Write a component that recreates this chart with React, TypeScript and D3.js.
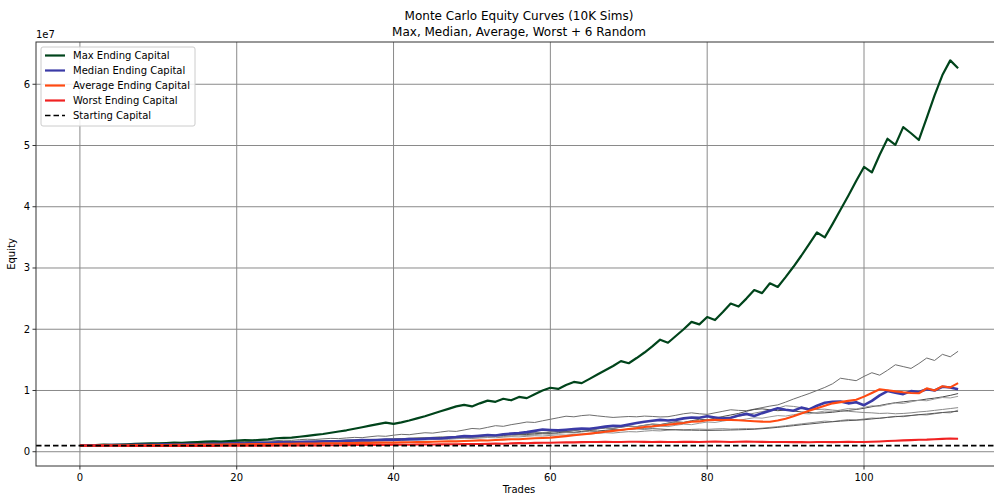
import React from "react";
import * as d3 from "d3";

// Values in millions of dollars, trade index 0..112
const maxCurve = [1.00,1.04,1.08,1.15,1.12,1.18,1.22,1.27,1.32,1.38,1.35,1.42,1.48,1.44,1.52,1.58,1.64,1.70,1.66,1.74,1.82,1.88,1.84,1.94,2.02,2.20,2.25,2.30,2.45,2.60,2.75,2.90,3.10,3.30,3.50,3.75,4.00,4.25,4.50,4.75,4.55,4.80,5.10,5.45,5.80,6.20,6.60,7.00,7.40,7.65,7.40,7.90,8.35,8.15,8.65,8.40,8.95,8.75,9.40,10.00,10.45,10.25,10.90,11.40,11.20,11.90,12.60,13.30,14.00,14.80,14.45,15.30,16.20,17.20,18.30,17.80,18.90,20.00,21.20,20.80,22.00,21.50,22.80,24.20,23.70,25.00,26.40,25.90,27.50,26.90,28.50,30.20,32.00,33.90,35.80,35.00,37.20,39.50,41.80,44.20,46.50,45.60,48.50,51.10,50.10,53.00,52.00,50.90,54.50,58.20,61.50,63.90,62.60];
const medianCurve = [1.00,1.03,1.06,1.04,1.08,1.10,1.08,1.12,1.15,1.13,1.17,1.20,1.18,1.22,1.25,1.23,1.27,1.30,1.28,1.33,1.37,1.35,1.40,1.44,1.42,1.48,1.52,1.50,1.60,1.64,1.62,1.68,1.72,1.70,1.78,1.84,1.90,1.86,1.92,1.97,1.93,2.00,2.06,2.03,2.12,2.20,2.16,2.30,2.40,2.55,2.50,2.62,2.72,2.66,2.85,2.95,3.05,3.20,3.40,3.62,3.55,3.48,3.60,3.70,3.78,3.74,3.92,4.10,4.25,4.20,4.45,4.70,4.90,5.05,5.20,5.10,5.20,5.45,5.60,5.55,5.80,5.60,5.40,5.55,5.90,6.18,5.85,6.30,6.70,7.10,6.85,6.70,7.20,6.90,7.50,8.00,8.15,8.20,7.90,8.07,7.60,8.30,9.20,9.90,9.65,9.40,9.90,9.74,10.20,10.00,10.60,10.50,10.20];
const averageCurve = [1.00,1.02,1.01,1.04,1.05,1.04,1.07,1.08,1.07,1.10,1.11,1.10,1.13,1.14,1.13,1.16,1.17,1.16,1.19,1.20,1.22,1.21,1.24,1.25,1.27,1.26,1.29,1.31,1.33,1.32,1.35,1.37,1.39,1.38,1.41,1.43,1.45,1.44,1.48,1.50,1.49,1.53,1.56,1.58,1.57,1.62,1.66,1.70,1.69,1.75,1.80,1.85,1.84,1.92,1.98,2.04,2.03,2.12,2.20,2.25,2.30,2.42,2.55,2.70,2.82,2.95,3.10,3.25,3.40,3.55,3.70,3.85,4.05,4.15,4.28,4.40,4.55,4.70,4.90,4.95,5.15,5.20,5.18,5.20,5.15,5.05,4.98,4.92,4.90,5.10,5.40,5.80,6.25,6.70,7.10,7.50,7.90,8.10,8.30,8.50,9.00,9.60,10.20,10.05,9.85,9.70,9.60,9.55,10.35,10.00,10.70,10.50,11.20];
const worstCurve = [1.00,0.98,1.01,0.99,0.97,0.98,0.96,0.97,0.95,0.96,0.94,0.96,0.95,0.97,0.95,0.96,0.94,0.96,0.98,0.97,0.99,0.98,1.00,1.01,0.99,1.02,1.03,1.02,1.04,1.05,1.04,1.06,1.07,1.06,1.08,1.10,1.09,1.11,1.12,1.11,1.13,1.15,1.14,1.17,1.18,1.17,1.20,1.22,1.21,1.24,1.26,1.25,1.29,1.32,1.31,1.36,1.40,1.39,1.44,1.47,1.46,1.50,1.54,1.52,1.57,1.60,1.58,1.62,1.60,1.58,1.62,1.64,1.61,1.59,1.63,1.60,1.58,1.61,1.63,1.60,1.62,1.65,1.62,1.60,1.64,1.66,1.63,1.61,1.60,1.58,1.60,1.57,1.59,1.56,1.58,1.60,1.57,1.59,1.61,1.58,1.60,1.63,1.68,1.74,1.80,1.86,1.90,1.95,1.98,2.05,2.10,2.15,2.12];
const random1 = [1.00,1.04,1.09,1.06,1.12,1.17,1.14,1.20,1.26,1.23,1.30,1.35,1.32,1.39,1.45,1.42,1.49,1.55,1.52,1.60,1.66,1.63,1.70,1.76,1.73,1.81,1.88,1.85,1.97,2.04,2.00,2.10,2.18,2.14,2.25,2.34,2.30,2.45,2.58,2.52,2.70,2.84,2.78,2.95,3.10,3.04,3.22,3.38,3.32,3.55,3.80,3.72,3.98,4.25,4.15,4.42,4.62,4.85,4.78,5.05,5.30,5.55,5.80,5.70,5.90,6.00,5.85,5.72,5.60,5.68,5.75,5.70,5.82,5.76,5.68,5.72,5.95,6.20,6.35,6.20,6.10,6.35,6.60,6.85,6.75,6.70,6.95,7.20,7.45,7.65,8.10,8.60,9.05,9.50,10.00,10.50,11.10,12.00,11.80,11.60,12.30,12.90,12.50,13.30,14.20,13.90,13.60,14.40,15.30,14.90,15.90,15.50,16.40];
const random2 = [1.00,1.03,1.00,1.05,1.09,1.06,1.11,1.15,1.12,1.17,1.21,1.18,1.24,1.28,1.25,1.31,1.35,1.32,1.38,1.42,1.39,1.45,1.50,1.47,1.53,1.58,1.55,1.61,1.66,1.63,1.70,1.75,1.72,1.79,1.85,1.81,1.89,1.95,1.91,2.00,2.07,2.03,2.12,2.20,2.15,2.25,2.34,2.29,2.40,2.50,2.45,2.57,2.68,2.62,2.76,2.88,2.82,2.97,3.10,3.04,3.20,3.35,3.28,3.45,3.60,3.53,3.72,3.88,3.80,4.00,4.18,4.10,4.32,4.52,4.44,4.68,4.90,4.80,5.06,5.30,5.20,5.48,5.75,6.00,6.25,6.60,6.90,7.00,6.85,6.70,6.80,6.65,6.50,6.40,6.30,6.35,6.45,6.60,6.75,6.90,7.10,7.35,7.55,7.80,8.00,8.15,8.30,8.40,8.60,8.75,8.95,9.20,9.50];
const random3 = [1.00,1.02,1.05,1.03,1.07,1.10,1.08,1.12,1.15,1.13,1.17,1.20,1.18,1.23,1.26,1.24,1.28,1.32,1.30,1.35,1.39,1.37,1.42,1.46,1.44,1.49,1.53,1.51,1.57,1.61,1.59,1.65,1.70,1.67,1.74,1.79,1.76,1.83,1.88,1.85,1.92,1.98,1.95,2.03,2.10,2.06,2.15,2.22,2.18,2.28,2.36,2.32,2.43,2.52,2.47,2.60,2.70,2.65,2.78,2.90,2.85,3.00,3.12,3.06,3.22,3.35,3.28,3.45,3.60,3.52,3.72,3.88,3.80,4.00,4.18,4.10,4.32,4.50,4.42,4.65,4.85,4.78,5.00,5.20,5.12,5.35,5.55,5.48,5.70,5.90,5.82,6.05,6.25,6.18,6.42,6.65,6.58,6.82,7.05,6.98,7.25,7.50,7.42,7.70,7.95,7.88,8.15,8.40,8.32,8.60,8.85,8.78,9.05];
const random4 = [1.00,1.04,1.01,1.06,1.10,1.07,1.12,1.16,1.13,1.19,1.23,1.20,1.26,1.31,1.28,1.34,1.39,1.36,1.42,1.47,1.44,1.50,1.55,1.52,1.58,1.63,1.60,1.67,1.72,1.69,1.76,1.82,1.79,1.86,1.92,1.89,1.97,2.04,2.00,2.09,2.16,2.12,2.22,2.30,2.26,2.36,2.45,2.40,2.51,2.61,2.56,2.68,2.78,2.73,2.86,2.97,2.92,3.06,3.18,3.12,3.27,3.40,3.34,3.50,3.64,3.58,3.75,3.90,3.83,4.02,4.18,4.10,4.30,4.48,4.40,4.62,4.80,4.72,4.96,5.18,5.10,5.36,5.60,5.52,5.80,6.05,6.30,6.55,6.80,7.10,7.50,7.40,7.20,7.05,6.90,6.95,6.80,6.70,6.60,6.50,6.40,6.35,6.25,6.30,6.20,6.25,6.35,6.50,6.60,6.75,6.90,7.05,7.20];
const random5 = [1.00,1.02,0.99,1.03,1.06,1.03,1.07,1.10,1.08,1.12,1.15,1.12,1.17,1.20,1.18,1.22,1.26,1.23,1.28,1.32,1.29,1.34,1.38,1.35,1.41,1.45,1.42,1.48,1.52,1.49,1.55,1.60,1.57,1.63,1.68,1.65,1.71,1.76,1.73,1.80,1.86,1.82,1.90,1.96,1.92,2.00,2.07,2.03,2.12,2.19,2.15,2.24,2.32,2.28,2.38,2.46,2.42,2.52,2.61,2.56,2.67,2.76,2.72,2.83,2.92,2.88,3.00,3.10,3.05,3.18,3.28,3.24,3.36,3.45,3.40,3.52,3.60,3.55,3.65,3.70,3.65,3.72,3.76,3.70,3.74,3.78,3.74,3.85,3.98,4.10,4.25,4.40,4.55,4.70,4.85,5.00,4.92,5.10,5.25,5.18,5.35,5.50,5.45,5.62,5.78,5.72,5.90,6.05,6.00,6.20,6.40,6.35,6.80];
const random6 = [1.00,1.03,1.06,1.03,1.07,1.11,1.08,1.13,1.17,1.14,1.19,1.23,1.20,1.25,1.30,1.27,1.32,1.37,1.34,1.40,1.45,1.42,1.48,1.53,1.50,1.56,1.62,1.58,1.65,1.71,1.67,1.74,1.80,1.76,1.84,1.90,1.86,1.94,2.01,1.97,2.05,2.12,2.08,2.17,2.25,2.20,2.30,2.38,2.33,2.44,2.53,2.48,2.60,2.69,2.64,2.76,2.86,2.80,2.93,3.04,2.98,3.12,3.24,3.18,3.32,3.44,3.38,3.50,3.60,3.54,3.66,3.74,3.68,3.76,3.70,3.62,3.58,3.55,3.52,3.50,3.48,3.50,3.52,3.55,3.58,3.62,3.68,3.76,3.86,3.98,4.12,4.25,4.40,4.52,4.65,4.78,4.90,5.00,5.08,5.15,5.22,5.35,5.48,5.60,5.72,5.82,5.92,6.05,6.15,6.28,6.40,6.52,6.60];

const randomCurves = [random1, random2, random3, random4, random5, random6];
const randomColors = ["#6e6e6e", "#4a4a4a", "#9a9a9a", "#8a8a8a", "#8f8f8f", "#555555"];

const startingCapital = 1.0;
const xTicks = [0, 20, 40, 60, 80, 100];
const yTicks = [0, 1, 2, 3, 4, 5, 6];

const titleLines = ["Monte Carlo Equity Curves (10K Sims)", "Max, Median, Average, Worst + 6 Random"];
const legendLabels = ["Max Ending Capital", "Median Ending Capital", "Average Ending Capital", "Worst Ending Capital", "Starting Capital"];

const W = 994, H = 494;
const L = 36, R = 1002, T = 42, B = 466;
const FONT = "DejaVu Sans, Liberation Sans, sans-serif";

export default function App() {
  const x = d3.scaleLinear().domain([-5.6, 117.6]).range([L, R]);
  const y = d3.scaleLinear().domain([-2.33, 66.9]).range([B, T]); // millions
  const line = d3.line<number>().x((_, i) => x(i)).y((d) => y(d));

  const main = [
    { data: maxCurve, color: "#00441b", w: 2.2 },
    { data: medianCurve, color: "#3a3aa6", w: 2.6 },
    { data: averageCurve, color: "#ff4a12", w: 2.1 },
    { data: worstCurve, color: "#f02222", w: 2.1 },
  ];
  const legendColors = ["#00441b", "#3a3aa6", "#ff4a12", "#f02222", "#000"];

  return (
    <svg width={W} height={H} style={{ position: "absolute", left: 0, top: 0, background: "#fff" }} fontFamily={FONT}>
      <defs>
        <clipPath id="plot"><rect x={L} y={T} width={R - L} height={B - T} /></clipPath>
      </defs>
      {/* grid */}
      {xTicks.map((t) => (
        <line key={"gx" + t} x1={x(t)} x2={x(t)} y1={T} y2={B} stroke="#8a8a8a" strokeWidth={1} />
      ))}
      {yTicks.map((t) => (
        <line key={"gy" + t} x1={L} x2={R} y1={y(t * 10)} y2={y(t * 10)} stroke="#8a8a8a" strokeWidth={1} />
      ))}
      <g clipPath="url(#plot)">
        {randomCurves.map((c, i) => (
          <path key={"r" + i} d={line(c) || ""} fill="none" stroke={randomColors[i]} strokeWidth={1} strokeLinejoin="round" />
        ))}
        {main.map((m, i) => (
          <path key={"m" + i} d={line(m.data) || ""} fill="none" stroke={m.color} strokeWidth={m.w} strokeLinejoin="round" />
        ))}
        <line x1={L} x2={R} y1={y(startingCapital)} y2={y(startingCapital)} stroke="#000" strokeWidth={1.6} strokeDasharray="5.5,3" />
      </g>
      {/* spines */}
      <rect x={L} y={T} width={R - L} height={B - T} fill="none" stroke="#333" strokeWidth={1} />
      {/* x ticks */}
      {xTicks.map((t) => (
        <g key={"xt" + t}>
          <line x1={x(t)} x2={x(t)} y1={B} y2={B + 3.5} stroke="#333" />
          <text x={x(t)} y={B + 15} fontSize={10} textAnchor="middle" fill="#000">{t}</text>
        </g>
      ))}
      {yTicks.map((t) => (
        <g key={"yt" + t}>
          <line x1={L - 3.5} x2={L} y1={y(t * 10)} y2={y(t * 10)} stroke="#333" />
          <text x={L - 6} y={y(t * 10) + 3.5} fontSize={10} textAnchor="end" fill="#000">{t}</text>
        </g>
      ))}
      <text x={L} y={T - 4} fontSize={10} fill="#000">1e7</text>
      <text x={(L + R) / 2} y={H - 1} fontSize={10} textAnchor="middle" fill="#000">Trades</text>
      <text transform={`translate(15,${(T + B) / 2}) rotate(-90)`} fontSize={10} textAnchor="middle" fill="#000">Equity</text>
      <text x={(L + R) / 2} y={20} fontSize={12} textAnchor="middle" fill="#000">{titleLines[0]}</text>
      <text x={(L + R) / 2} y={36} fontSize={12} textAnchor="middle" fill="#000">{titleLines[1]}</text>
      {/* legend */}
      <g>
        <rect x={41} y={47} width={154} height={79} rx={2} fill="#fff" fillOpacity={0.85} stroke="#ccc" />
        {legendLabels.map((lab, i) => {
          const yy = 55.5 + i * 15;
          return (
            <g key={"lg" + i}>
              <line x1={45} x2={65} y1={yy} y2={yy} stroke={legendColors[i]} strokeWidth={i === 4 ? 1.6 : 2.2} strokeDasharray={i === 4 ? "5.5,3" : undefined} />
              <text x={73} y={yy + 3.5} fontSize={10} fill="#000">{lab}</text>
            </g>
          );
        })}
      </g>
    </svg>
  );
}
